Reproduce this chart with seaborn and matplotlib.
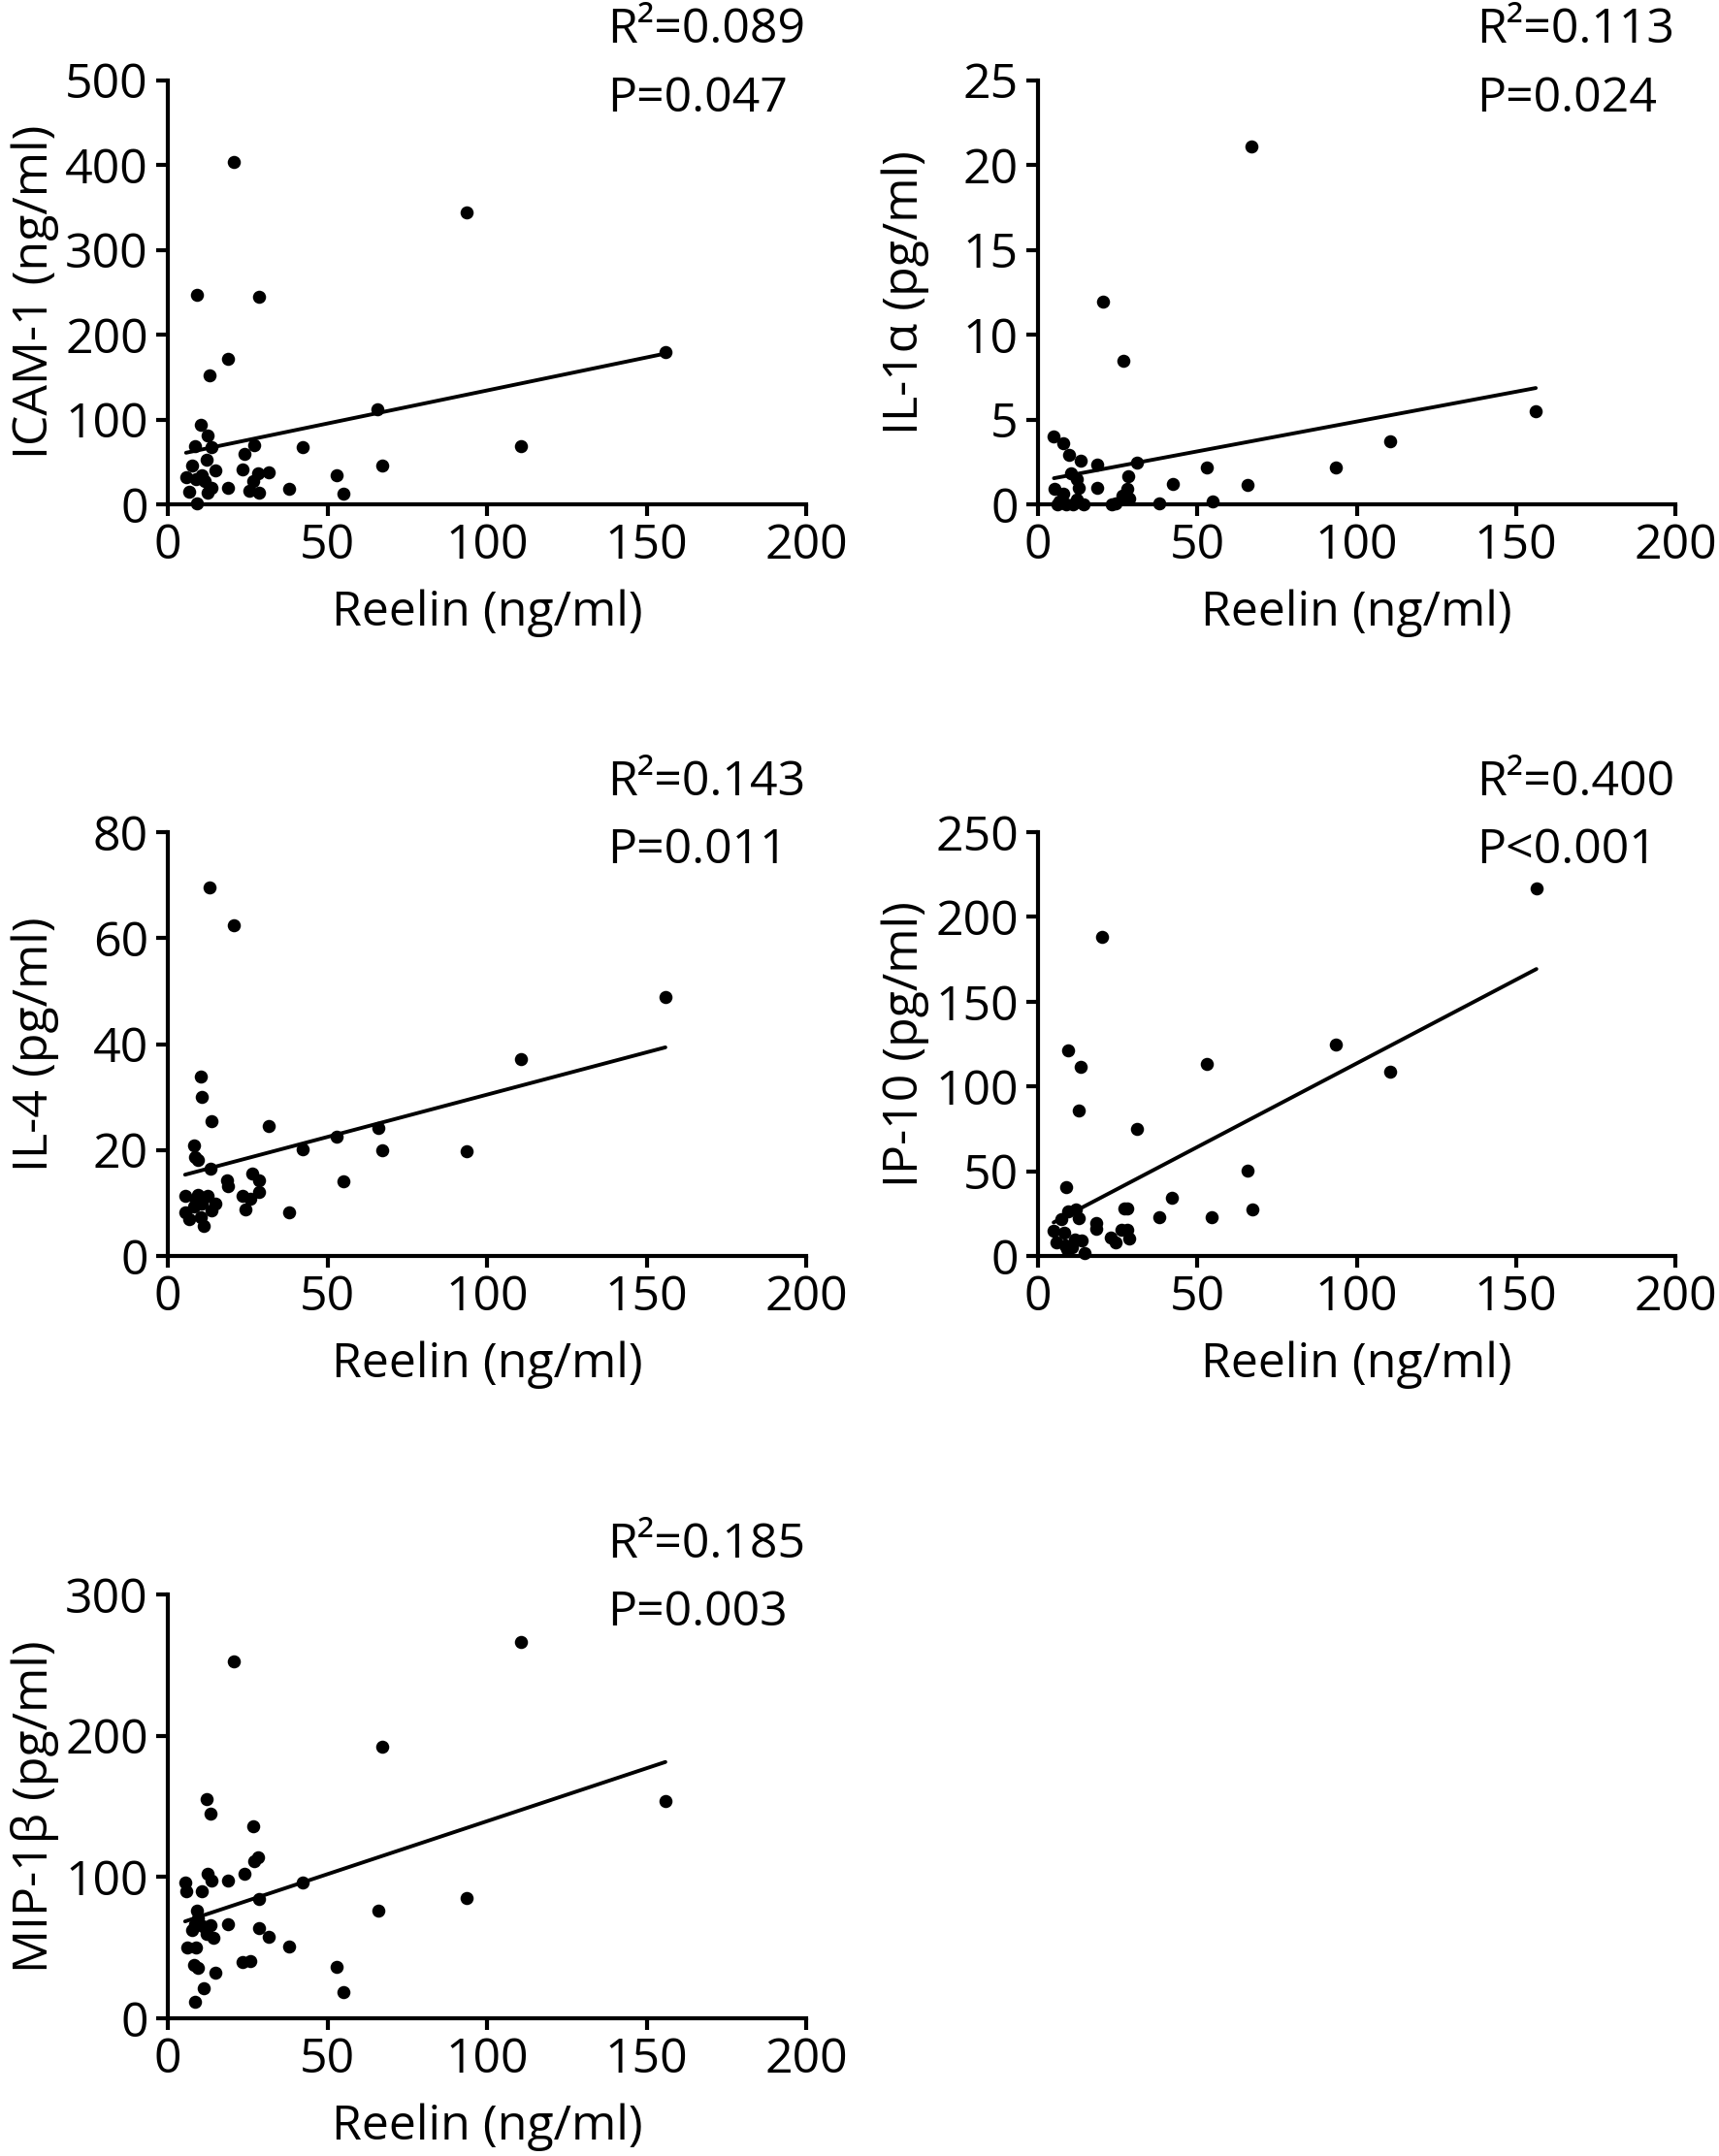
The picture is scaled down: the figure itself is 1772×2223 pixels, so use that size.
import matplotlib
matplotlib.use("Agg")
import matplotlib.pyplot as plt
import seaborn as sns
import pandas as pd

# ---------------- data ----------------
icam_x = [20.7, 93.6, 9.2, 28.5, 18.7, 13.2, 65.8, 155.9, 10.2, 12.5, 110.5, 42.3, 27.1, 8.4, 13.8,
          24.1, 12.2, 7.5, 67.1, 14.9, 23.3, 31.5, 28.2, 5.7, 10.6, 52.9, 26.8, 13.6, 18.7, 25.5,
          28.7, 38.0, 6.8, 12.5, 54.9, 9.2, 8.8, 11.5]
icam_y = [404, 344, 247, 245, 172, 152, 112, 180, 94, 81, 69, 67, 70, 69, 67,
          60, 53, 46, 46, 40, 41, 38, 37, 32, 34, 34, 27, 19, 19, 16,
          14, 18, 15, 14, 13, 1, 30, 27]

il1a_x = [67.1, 20.4, 26.7, 156.2, 110.5, 5.0, 7.9, 9.8, 13.3, 18.5, 31.0, 53.1, 93.6, 10.2, 12.2,
          28.2, 42.2, 65.7, 5.2, 12.9, 18.6, 27.9, 7.9, 26.5, 28.6, 38.1, 54.8, 6.1, 8.8, 10.9,
          14.3, 23.1, 24.5, 12.2, 6.8]
il1a_y = [21.1, 11.96, 8.47, 5.48, 3.71, 4.0, 3.58, 2.91, 2.57, 2.34, 2.48, 2.19, 2.19, 1.81, 1.49,
          1.68, 1.2, 1.14, 0.91, 1.0, 0.95, 0.91, 0.63, 0.53, 0.34, 0.06, 0.15, 0, 0, 0,
          0, 0, 0.05, 0.3, 0.2]

il4_x = [13.2, 20.7, 155.9, 110.5, 10.2, 10.6, 13.8, 31.5, 66.0, 52.9, 8.1, 42.3, 67.1, 93.6, 8.5,
         9.5, 13.3, 26.4, 18.6, 28.5, 54.9, 18.7, 28.7, 5.4, 9.5, 12.6, 23.3, 25.8, 14.9, 10.6,
         8.1, 5.4, 24.4, 13.8, 38.0, 6.8, 10.4, 11.3, 8.8]
il4_y = [69.5, 62.5, 48.8, 37.1, 33.9, 30.0, 25.5, 24.6, 24.2, 22.5, 20.8, 20.1, 19.9, 19.7, 18.7,
         18.1, 16.4, 15.5, 14.2, 14.2, 14.1, 13.1, 12.1, 11.4, 11.6, 11.4, 11.3, 10.8, 9.9, 9.9,
         9.4, 8.3, 8.8, 8.6, 8.3, 6.9, 7.4, 5.6, 10.5]

ip10_x = [156.4, 20.2, 93.5, 52.9, 110.4, 9.5, 13.4, 12.8, 31.1, 65.8, 8.9, 42.0, 27.2, 28.1, 67.2,
          9.5, 12.0, 12.7, 7.2, 37.9, 54.6, 18.4, 18.4, 4.9, 8.2, 26.3, 28.1, 22.9, 28.6, 5.9,
          11.7, 13.6, 24.3, 9.0, 10.6, 14.7, 8.6]
ip10_y = [217, 188, 125, 113, 108.5, 121.5, 111.4, 85.7, 74.8, 50.5, 40.6, 34.5, 28.2, 28.0, 27.6,
          26.3, 27.2, 22.1, 21.5, 22.8, 23.0, 19.6, 16.2, 14.9, 13.9, 15.4, 15.4, 10.7, 10.1, 8.2,
          9.5, 9.1, 7.8, 3.8, 5.0, 1.9, 6.3]

mip_x = [110.5, 20.7, 67.1, 155.9, 12.2, 13.3, 26.8, 28.2, 27.1, 12.5, 13.8, 24.1, 18.7, 5.4, 5.7,
         10.6, 42.3, 28.5, 93.6, 66.0, 9.2, 9.5, 8.4, 13.3, 18.7, 10.8, 7.5, 28.7, 12.2, 14.2,
         31.5, 38.0, 6.1, 8.8, 23.3, 25.8, 52.9, 8.1, 9.5, 14.9, 11.3, 54.9, 8.5]
mip_y = [266.6, 252.9, 192.4, 153.5, 155.4, 145.1, 135.9, 114.2, 111.5, 102.1, 97.6, 102.1, 97.6, 96.4, 89.6,
         89.6, 96.0, 84.5, 85.2, 76.5, 76.5, 70.8, 66.3, 65.6, 66.3, 65.1, 62.4, 64.0, 59.4, 57.1,
         57.6, 50.9, 50.3, 50.3, 40.0, 40.4, 36.6, 37.7, 35.9, 32.0, 21.0, 18.3, 11.9]

y_labels = ["ICAM-1 (ng/ml)", "IL-1\u03b1 (pg/ml)", "IL-4 (pg/ml)", "IP-10 (pg/ml)", "MIP-1\u03b2 (pg/ml)"]
r2_texts = ["R\u00b2=0.089", "R\u00b2=0.113", "R\u00b2=0.143", "R\u00b2=0.400", "R\u00b2=0.185"]
p_texts = ["P=0.047", "P=0.024", "P=0.011", "P<0.001", "P=0.003"]
y_max = [500, 25, 80, 250, 300]
y_step = [100, 5, 20, 50, 100]
x_ticks = [0, 50, 100, 150, 200]
x_label = "Reelin (ng/ml)"

panels_x = [icam_x, il1a_x, il4_x, ip10_x, mip_x]
panels_y = [icam_y, il1a_y, il4_y, ip10_y, mip_y]

# ---------------- style ----------------
sns.set_theme(style="ticks")
plt.rcParams['font.family'] = ['Open Sans', 'DejaVu Sans']
FS = 36
LW = 3.0

W, H = 1772, 2223
fig = plt.figure(figsize=(W / 100, H / 100), dpi=100)
fig.patch.set_facecolor("white")

# axes rectangles in pixels: (left, top, right, bottom)
rects = [(173, 82.6, 831, 520),
         (1070, 82.6, 1727, 520),
         (173, 858, 831, 1295),
         (1070, 858, 1727, 1295),
         (173, 1644, 831, 2081)]

for i in range(5):
    l, t, r, b = rects[i]
    ax = fig.add_axes([l / W, 1 - b / H, (r - l) / W, (b - t) / H])
    df = pd.DataFrame({"x": panels_x[i], "y": panels_y[i]})
    sns.regplot(data=df, x="x", y="y", ax=ax, ci=None, color="black",
                scatter_kws=dict(s=95, linewidths=0, clip_on=False, zorder=3, alpha=1),
                line_kws=dict(linewidth=2.8, color="black", zorder=2))
    ax.set_xlim(0, 200)
    ax.set_ylim(0, y_max[i])
    ax.set_xticks(x_ticks)
    ax.set_yticks(list(range(0, y_max[i] + 1, y_step[i])))
    sns.despine(ax=ax)
    for s in ["left", "bottom"]:
        ax.spines[s].set_linewidth(LW)
        ax.spines[s].set_color("black")
    ax.tick_params(axis="both", direction="out", length=8.5, width=LW, color="black",
                   labelsize=FS, labelcolor="black")
    ax.tick_params(axis="x", pad=5)
    ax.tick_params(axis="y", pad=6)
    ax.set_xlabel(x_label, fontsize=FS, color="black")
    ax.set_ylabel(y_labels[i], fontsize=FS, color="black")
    ax.yaxis.set_label_coords(-0.17, 0.5)
    ax.xaxis.set_label_coords(0.5, -0.2)
    ax.set_facecolor("white")
    ax.text(0.688, 1.088, r2_texts[i], transform=ax.transAxes, fontsize=FS,
            ha="left", va="baseline", color="black")
    ax.text(0.688, 0.926, p_texts[i], transform=ax.transAxes, fontsize=FS,
            ha="left", va="baseline", color="black")

fig.savefig("out.png", dpi=100, facecolor="white")
